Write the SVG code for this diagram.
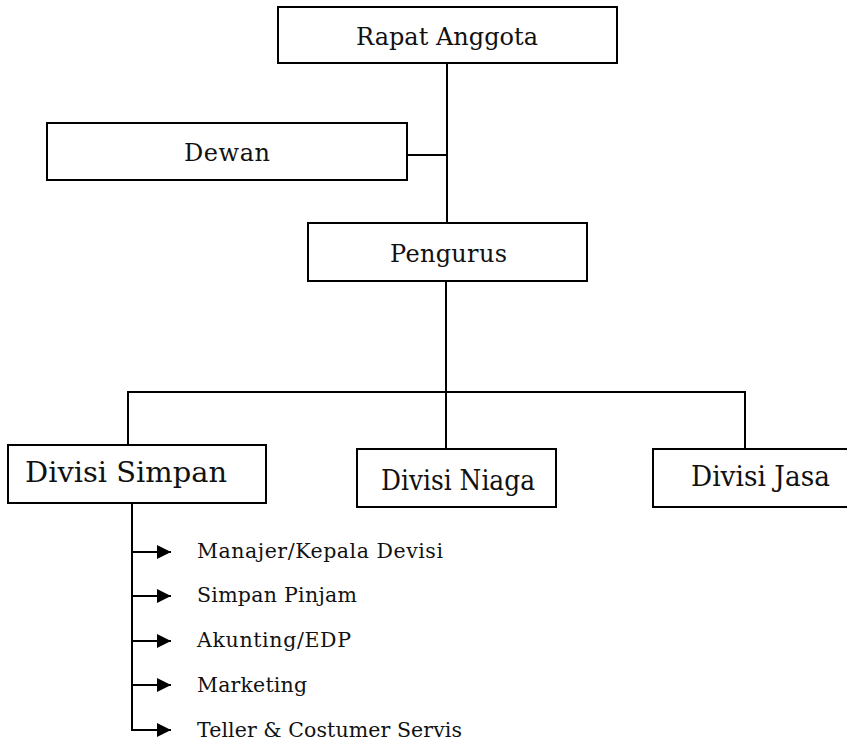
<svg xmlns="http://www.w3.org/2000/svg" width="847" height="742" viewBox="0 0 847 742">
<style>
.box{fill:#fff;stroke:#000;stroke-width:2}
.ln{fill:none;stroke:#000;stroke-width:2}
.t{font-family:"DejaVu Serif","Liberation Serif",serif;fill:#111;font-size:24px}
.d{font-family:"DejaVu Serif","Liberation Serif",serif;fill:#111;font-size:27px}
.s{font-family:"DejaVu Serif","Liberation Serif",serif;fill:#111;font-size:20.5px}
</style>
<defs>
<marker id="ah" viewBox="0 0 14 14" refX="14" refY="7" markerWidth="14" markerHeight="14" markerUnits="userSpaceOnUse" orient="auto">
<path d="M0,0 L14,7 L0,14 Z" fill="#000"/>
</marker>
</defs>
<rect width="847" height="742" fill="#fff"/>
<g id="connectors">
<path class="ln" d="M447,63 V223"/>
<path class="ln" d="M407,155 H447"/>
<path class="ln" d="M446,281 V453"/>
<path class="ln" d="M128,392 H745"/>
<path class="ln" d="M128,391 V449"/>
<path class="ln" d="M745,391 V449"/>
<path class="ln" d="M132,503 V731"/>
<path class="ln" d="M132,552 H171" marker-end="url(#ah)"/>
<path class="ln" d="M132,596 H171" marker-end="url(#ah)"/>
<path class="ln" d="M132,641 H171" marker-end="url(#ah)"/>
<path class="ln" d="M132,685 H171" marker-end="url(#ah)"/>
<path class="ln" d="M131,730 H171" marker-end="url(#ah)"/>
</g>
<g id="rapat-anggota">
<rect class="box" x="278" y="7" width="339" height="56"/>
<text class="t" x="356" y="45" textLength="182">Rapat Anggota</text>
</g>
<g id="dewan">
<rect class="box" x="47" y="123" width="360" height="57"/>
<text class="t" x="184" y="161" textLength="86">Dewan</text>
</g>
<g id="pengurus">
<rect class="box" x="308" y="223" width="279" height="58"/>
<text class="t" x="390" y="262" textLength="117">Pengurus</text>
</g>
<g id="divisi-simpan">
<rect class="box" x="8" y="445" width="258" height="58"/>
<text class="d" x="25" y="482" textLength="202" lengthAdjust="spacingAndGlyphs">Divisi Simpan</text>
</g>
<g id="divisi-niaga">
<rect class="box" x="357" y="449" width="199" height="58"/>
<text class="d" x="381" y="490" textLength="154" lengthAdjust="spacingAndGlyphs">Divisi Niaga</text>
</g>
<g id="divisi-jasa">
<rect class="box" x="653" y="449" width="200" height="58"/>
<text class="d" x="691" y="486" textLength="139" lengthAdjust="spacingAndGlyphs">Divisi Jasa</text>
</g>
<g id="sub-items">
<text class="s" x="197" y="558" textLength="246">Manajer/Kepala Devisi</text>
<text class="s" x="197" y="602" textLength="160">Simpan Pinjam</text>
<text class="s" x="197" y="647" textLength="154">Akunting/EDP</text>
<text class="s" x="197" y="692" textLength="110">Marketing</text>
<text class="s" x="197" y="737" textLength="265">Teller &amp; Costumer Servis</text>
</g>
</svg>
